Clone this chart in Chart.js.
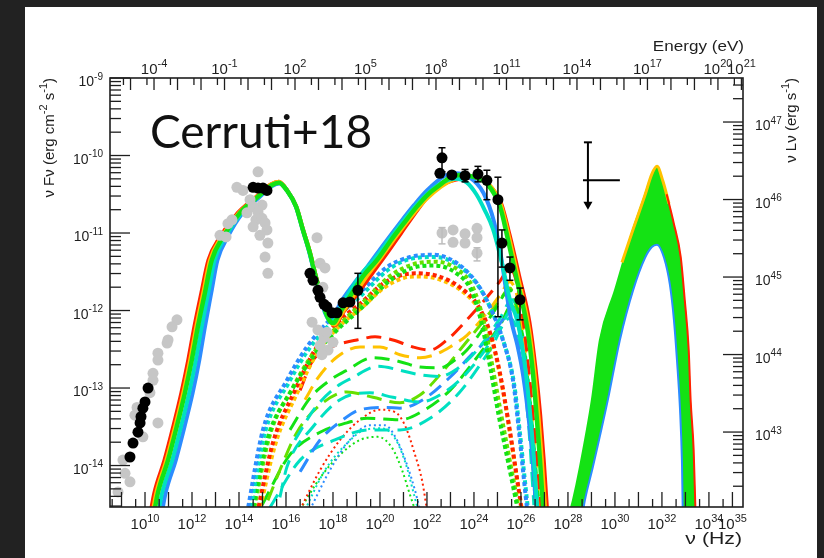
<!DOCTYPE html>
<html>
<head>
<meta charset="utf-8">
<script src="https://cdn.jsdelivr.net/npm/chart.js@4.4.0/dist/chart.umd.min.js"></script>
<style>
html, body { margin: 0; padding: 0; background: #222; }
#panel { position: absolute; left: 25px; top: 7px; width: 792px; height: 551px; background: #fff; }
</style>
</head>
<body>
<div id="panel"><canvas id="sed" width="792" height="551"></canvas></div>
<script>
// every value below is log10: frequency nu in Hz, flux nuFnu in erg cm-2 s-1

// tick labels (exponents)
var nuLabels = [10, 12, 14, 16, 18, 20, 22, 24, 26, 28, 30, 32, 34, 35];
var eLabels = [-4, -1, 2, 5, 8, 11, 14, 17, 20, 21];
var fLabels = [-9, -10, -11, -12, -13, -14];
var lLabels = [43, 44, 45, 46, 47];

// total model, synchrotron + IC (solid)
var totRed = [[10.23,-14.62],[10.40,-14.35],[10.83,-13.93],[11.20,-13.50],[11.55,-13.06],[11.84,-12.64],[12.10,-12.21],[12.40,-11.77],[12.70,-11.35],[13.20,-11.05],[13.95,-10.74],[14.71,-10.54],[15.37,-10.37],[15.70,-10.34],[16.05,-10.45],[16.44,-10.66],[16.73,-10.96],[17.03,-11.26],[17.24,-11.52],[17.46,-11.77],[17.72,-12.03],[17.93,-12.16],[18.08,-12.19],[18.42,-12.03],[19.00,-11.80],[19.65,-11.53],[20.30,-11.26],[20.90,-11.00],[21.60,-10.70],[22.26,-10.45],[23.00,-10.33],[23.83,-10.29],[24.30,-10.31],[24.70,-10.40],[25.17,-10.63],[25.52,-11.03],[25.92,-11.55],[26.36,-12.15],[26.62,-12.75],[26.82,-13.35],[26.97,-13.93],[27.12,-14.62]];
var totOrange = [[10.31,-14.62],[10.48,-14.35],[10.91,-13.93],[11.28,-13.50],[11.63,-13.06],[11.92,-12.64],[12.18,-12.21],[12.48,-11.77],[12.77,-11.35],[13.26,-11.05],[14.00,-10.74],[14.74,-10.54],[15.38,-10.37],[15.70,-10.34],[16.05,-10.45],[16.44,-10.66],[16.73,-10.96],[17.03,-11.26],[17.24,-11.52],[17.46,-11.77],[17.71,-12.03],[17.92,-12.16],[18.06,-12.18],[18.35,-12.05],[18.90,-11.80],[19.48,-11.54],[20.08,-11.30],[20.70,-11.04],[21.30,-10.80],[21.95,-10.57],[22.60,-10.40],[23.20,-10.30],[23.70,-10.27],[24.20,-10.29],[24.66,-10.38],[25.14,-10.63],[25.49,-11.05],[25.88,-11.58],[26.31,-12.18],[26.57,-12.78],[26.75,-13.38],[26.89,-13.93],[27.04,-14.62]];
var totTeal = [[10.56,-14.62],[10.73,-14.35],[11.16,-13.93],[11.53,-13.50],[11.88,-13.06],[12.16,-12.64],[12.41,-12.21],[12.69,-11.77],[12.96,-11.35],[13.42,-11.05],[14.10,-10.74],[14.80,-10.54],[15.42,-10.38],[15.71,-10.35],[16.04,-10.45],[16.43,-10.66],[16.72,-10.96],[17.01,-11.26],[17.22,-11.52],[17.44,-11.77],[17.68,-12.03],[17.89,-12.14],[18.02,-12.12],[18.20,-12.02],[18.70,-11.76],[19.20,-11.53],[19.70,-11.36],[20.35,-11.10],[20.95,-10.86],[21.55,-10.64],[22.10,-10.47],[22.70,-10.34],[23.20,-10.30],[23.70,-10.35],[24.10,-10.50],[24.45,-10.70],[24.81,-10.95],[25.23,-11.44],[25.53,-11.86],[25.83,-12.12],[26.10,-12.55],[26.35,-13.20],[26.55,-13.90],[26.70,-14.62]];
var totBlue = [[10.71,-14.62],[10.88,-14.35],[11.31,-13.93],[11.68,-13.50],[12.03,-13.06],[12.31,-12.64],[12.55,-12.21],[12.82,-11.77],[13.08,-11.35],[13.52,-11.05],[14.16,-10.74],[14.83,-10.55],[15.43,-10.39],[15.72,-10.36],[16.04,-10.45],[16.42,-10.66],[16.71,-10.96],[17.00,-11.26],[17.21,-11.52],[17.42,-11.77],[17.66,-12.03],[17.87,-12.13],[18.00,-12.08],[18.40,-11.86],[19.00,-11.61],[19.45,-11.44],[20.15,-11.15],[20.85,-10.87],[21.45,-10.64],[22.00,-10.45],[22.77,-10.26],[23.19,-10.23],[23.80,-10.28],[24.40,-10.48],[24.85,-10.85],[25.15,-11.30],[25.40,-11.80],[25.60,-12.15],[25.85,-12.45],[26.10,-12.85],[26.38,-13.54],[26.70,-14.62]];
var totGreen = [[10.38,-14.62],[10.55,-14.35],[10.98,-13.93],[11.35,-13.50],[11.70,-13.06],[11.99,-12.64],[12.25,-12.21],[12.55,-11.77],[12.84,-11.35],[13.32,-11.05],[14.04,-10.74],[14.77,-10.54],[15.40,-10.38],[15.70,-10.35],[16.04,-10.45],[16.43,-10.66],[16.72,-10.96],[17.02,-11.26],[17.23,-11.52],[17.45,-11.77],[17.70,-12.03],[17.91,-12.15],[18.04,-12.16],[18.25,-12.05],[18.80,-11.78],[19.30,-11.55],[19.87,-11.35],[20.50,-11.08],[21.00,-10.88],[21.57,-10.66],[22.05,-10.50],[22.55,-10.38],[23.00,-10.28],[23.40,-10.25],[24.04,-10.28],[24.60,-10.38],[25.11,-10.66],[25.45,-11.09],[25.83,-11.61],[26.26,-12.21],[26.51,-12.81],[26.68,-13.41],[26.81,-13.93],[26.96,-14.62]];

// inverse Compton component (thick dots)
var icBlue = [[14.34,-14.62],[15.02,-13.54],[16.04,-12.90],[16.89,-12.47],[17.87,-12.12],[19.15,-11.77],[20.30,-11.44],[21.28,-11.31],[22.26,-11.28],[23.28,-11.39],[24.13,-11.65],[24.68,-11.95],[25.23,-12.38],[25.66,-12.90],[25.91,-13.54],[26.13,-14.19],[26.28,-14.62]];
var icTeal = [[14.45,-14.62],[15.12,-13.56],[16.12,-12.93],[16.97,-12.50],[17.95,-12.15],[19.22,-11.80],[20.37,-11.47],[21.35,-11.33],[22.33,-11.31],[23.35,-11.42],[24.18,-11.68],[24.72,-11.98],[25.27,-12.41],[25.70,-12.93],[25.95,-13.56],[26.17,-14.20],[26.32,-14.62]];
var icGreen = [[14.55,-14.62],[15.22,-13.65],[16.20,-13.05],[17.05,-12.64],[18.02,-12.30],[19.28,-11.95],[20.40,-11.62],[21.40,-11.45],[22.30,-11.42],[23.25,-11.52],[23.90,-11.75],[24.35,-12.20],[24.70,-12.75],[25.05,-13.35],[25.45,-13.95],[25.90,-14.62]];
var icLime = [[14.60,-14.62],[15.30,-13.62],[16.28,-13.00],[17.10,-12.58],[18.08,-12.24],[19.32,-11.88],[20.45,-11.55],[21.45,-11.40],[22.35,-11.37],[23.30,-11.47],[23.95,-11.70],[24.40,-12.12],[24.76,-12.68],[25.12,-13.28],[25.50,-13.90],[25.95,-14.62]];
var icRed = [[14.77,-14.62],[15.45,-13.70],[16.35,-13.05],[17.25,-12.50],[18.17,-12.16],[19.20,-11.90],[20.14,-11.65],[20.95,-11.54],[21.60,-11.52],[22.50,-11.56],[23.40,-11.70],[24.20,-11.95],[24.70,-12.30],[25.10,-12.80],[25.50,-13.50],[25.80,-14.10],[26.05,-14.62]];
var icOrange = [[14.85,-14.62],[15.55,-13.72],[16.45,-13.08],[17.32,-12.55],[18.24,-12.21],[19.27,-11.95],[20.20,-11.70],[21.00,-11.58],[21.65,-11.56],[22.55,-11.60],[23.45,-11.74],[24.22,-11.99],[24.72,-12.34],[25.12,-12.85],[25.52,-13.55],[25.82,-14.15],[26.07,-14.62]];

// hadronic components (long dashes)
var hadRed = [[16.60,-13.03],[17.11,-12.66],[17.66,-12.51],[18.30,-12.43],[19.02,-12.38],[19.79,-12.34],[20.55,-12.38],[21.40,-12.47],[22.13,-12.51],[22.85,-12.38],[23.70,-12.12],[24.55,-11.83],[25.11,-11.62],[25.53,-11.45],[25.96,-11.86],[26.38,-12.90],[26.72,-14.06],[26.89,-14.62]];
var hadOrange = [[16.81,-13.15],[17.36,-12.87],[18.17,-12.60],[19.15,-12.47],[20.00,-12.47],[20.85,-12.57],[21.70,-12.61],[22.34,-12.57],[22.98,-12.47],[23.70,-12.32],[24.47,-12.06],[25.11,-11.80],[25.53,-11.63],[25.96,-11.99],[26.38,-13.03],[26.72,-14.19],[26.85,-14.62]];
var hadGreenA = [[16.17,-13.54],[17.02,-13.13],[17.87,-12.90],[18.59,-12.77],[19.70,-12.61],[20.85,-12.66],[21.70,-12.73],[22.55,-12.74],[23.19,-12.64],[23.70,-12.51],[24.26,-12.29],[24.81,-12.03],[25.53,-11.74],[25.96,-12.12],[26.38,-13.15],[26.68,-14.19],[26.81,-14.62]];
var hadTealA = [[16.38,-13.67],[17.23,-13.26],[18.08,-13.00],[18.81,-12.87],[19.91,-12.72],[20.85,-12.77],[21.70,-12.83],[22.55,-12.85],[23.19,-12.77],[23.83,-12.61],[24.47,-12.38],[25.11,-12.10],[25.62,-11.86],[26.04,-12.25],[26.43,-13.28],[26.68,-14.32],[26.77,-14.62]];
var hadGreenB = [[15.23,-14.45],[15.74,-14.06],[16.47,-13.57],[17.45,-13.22],[18.59,-13.05],[19.70,-13.12],[20.85,-13.19],[21.70,-13.09],[22.55,-12.83],[23.40,-12.51],[24.26,-12.19],[25.11,-11.86],[25.53,-11.71],[25.96,-12.25],[26.38,-13.28],[26.64,-14.32],[26.72,-14.62]];
var hadTealB = [[15.74,-14.41],[16.04,-14.02],[17.15,-13.50],[18.30,-13.15],[19.57,-13.06],[20.55,-13.12],[21.70,-13.18],[22.76,-13.05],[23.62,-12.83],[24.47,-12.51],[25.32,-12.10],[25.74,-11.93],[26.08,-12.38],[26.43,-13.41],[26.64,-14.45]];
var hadBlue = [[16.60,-14.08],[17.45,-13.67],[18.42,-13.41],[19.15,-13.28],[20.30,-13.25],[20.85,-13.26],[21.83,-13.15],[22.98,-12.86],[23.96,-12.55],[24.55,-12.38],[25.23,-12.12],[25.66,-11.97],[26.04,-12.45],[26.38,-13.41],[26.60,-14.45]];
var hadGreenC = [[14.98,-14.51],[16.17,-13.86],[17.45,-13.57],[18.59,-13.45],[19.45,-13.39],[20.85,-13.41],[21.91,-13.28],[22.98,-13.03],[24.04,-12.64],[25.11,-12.19],[25.62,-11.93],[26.00,-12.38],[26.38,-13.41],[26.60,-14.45]];
var hadTealC = [[15.32,-14.54],[16.60,-13.93],[18.08,-13.67],[19.57,-13.54],[20.85,-13.54],[22.13,-13.39],[23.40,-13.05],[24.68,-12.51],[25.53,-12.10],[25.96,-12.45],[26.34,-13.54],[26.55,-14.51]];

// small components (fine dots)
var lowRed = [[16.60,-14.57],[17.45,-14.06],[18.30,-13.67],[19.15,-13.41],[20.00,-13.28],[20.64,-13.31],[21.06,-13.48],[21.49,-13.86],[21.79,-14.19],[22.00,-14.57]];
var lowTeal = [[16.81,-14.57],[17.66,-14.06],[18.51,-13.74],[19.36,-13.54],[20.08,-13.52],[20.68,-13.67],[21.11,-13.99],[21.40,-14.32],[21.62,-14.57]];
var lowBlue = [[17.02,-14.57],[17.87,-14.06],[18.72,-13.67],[19.57,-13.48],[20.21,-13.48],[20.72,-13.67],[21.15,-13.99],[21.49,-14.32],[21.70,-14.57]];
var lowGreen = [[16.60,-14.57],[17.45,-14.16],[18.30,-13.86],[19.15,-13.67],[19.91,-13.63],[20.51,-13.77],[20.94,-14.06],[21.28,-14.38],[21.49,-14.57]];

// neutrino bump at the far right: outer and inner edge of the band
var nuOuter = [[28.08,-14.60],[28.21,-14.45],[28.51,-14.02],[29.02,-13.15],[29.36,-12.38],[30.00,-11.74],[30.72,-11.00],[31.28,-10.51],[31.57,-10.25],[31.79,-10.16],[32.04,-10.35],[32.47,-10.87],[32.77,-11.31],[32.94,-11.86],[33.11,-12.51],[33.19,-13.15],[33.32,-13.80],[33.40,-14.60]];
var nuInner = [[28.08,-16.00],[28.64,-14.60],[28.72,-14.45],[29.06,-14.02],[29.70,-13.15],[30.21,-12.38],[30.77,-11.74],[31.28,-11.32],[31.57,-11.18],[31.79,-11.15],[32.09,-11.32],[32.34,-11.67],[32.51,-12.12],[32.64,-12.64],[32.77,-13.28],[32.85,-13.93],[32.89,-14.60],[33.40,-16.00]];
var nuTop = [[30.30,-11.38],[30.72,-11.00],[31.28,-10.51],[31.57,-10.24],[31.79,-10.14],[32.04,-10.33],[32.30,-10.62]];
var nuRedEdge = [[32.20,-10.50],[32.50,-10.87],[32.80,-11.31],[32.97,-11.86],[33.14,-12.51],[33.22,-13.15],[33.35,-13.80],[33.43,-14.62]];

// data
var blackNu = [10.13, 10.00, 9.91, 9.83, 9.79, 9.70, 9.49, 9.36, 14.60, 14.81, 15.02, 15.19, 17.02, 17.15, 17.36, 17.45, 17.62, 17.74, 17.96, 18.17, 18.43, 18.72, 19.06, 22.64, 22.55, 23.06, 23.62, 24.17, 24.55, 25.02, 25.19, 25.53, 25.96];
var blackF = [-13.00, -13.18, -13.26, -13.37, -13.45, -13.57, -13.71, -13.89, -10.41, -10.42, -10.42, -10.45, -11.52, -11.61, -11.74, -11.83, -11.92, -11.95, -12.03, -12.03, -11.90, -11.89, -11.74, -10.03, -10.23, -10.25, -10.26, -10.24, -10.32, -10.57, -11.13, -11.45, -11.86];
// [nu, upper, lower]
var blackErr = [[19.06,-11.52,-12.23],[22.64,-9.90,-10.21],[23.62,-10.18,-10.34],[24.17,-10.14,-10.34],[24.55,-10.19,-10.57],[25.02,-10.28,-12.08],[25.19,-10.96,-11.44],[25.53,-11.31,-11.61],[25.96,-11.71,-12.12]];
var grayNu = [11.36, 11.15, 10.98, 10.94, 10.55, 10.55, 10.34, 10.34, 10.21, 9.66, 9.57, 9.91, 10.55, 9.06, 9.15, 9.36, 8.85, 14.81, 14.17, 13.91, 14.47, 14.98, 14.34, 14.72, 14.60, 14.81, 14.98, 15.11, 14.60, 15.19, 14.89, 13.70, 13.53, 13.19, 13.45, 15.23, 15.11, 15.23, 17.32, 17.45, 17.66, 17.57, 17.11, 17.36, 17.62, 17.45, 17.79, 17.53, 18.00, 17.74, 22.64, 23.11, 23.11, 23.62, 23.62, 24.13, 24.13, 24.13];
var grayF = [-12.12, -12.21, -12.38, -12.42, -12.55, -12.64, -12.81, -12.90, -13.06, -13.25, -13.35, -13.63, -13.45, -13.93, -14.10, -14.21, -14.34, -10.21, -10.45, -10.41, -10.57, -10.64, -10.74, -10.83, -10.66, -10.73, -10.81, -10.87, -10.92, -10.96, -11.03, -10.83, -10.88, -11.03, -11.05, -11.13, -11.31, -11.52, -11.06, -11.39, -11.45, -11.70, -12.15, -12.25, -12.35, -12.45, -12.51, -12.57, -12.41, -12.28, -11.00, -10.96, -11.12, -11.01, -11.13, -10.94, -11.06, -11.26];
var grayErr = [[22.64,-10.93,-11.14],[24.13,-11.19,-11.36]];
// upper limit: nu, nu low, nu high, flux, top of bar, arrow tip
var ulNu = 28.85, ulNuLo = 28.64, ulNuHi = 30.21, ulF = -10.32, ulTop = -9.83, ulTip = -10.70;

var RED = '#ff2200', ORANGE = '#ffc200', GREEN = '#14e214', LIME = '#66e000', TEAL = '#00e0c2', BLUE = '#2c8cff';
var FONT = '"Liberation Sans", Arial, sans-serif';
var HEV = Math.log10(4.1357e-15); // h in eV s
var LOFF = 56.568;                // log10(4 pi d^2)
var NU_MIN = 8.51, NU_MAX = 35.45, F_MIN = -14.535, F_MAX = -9;

function toXY(pts) {
    return pts.map(function (p) { return { x: Math.pow(10, p[0]), y: Math.pow(10, p[1]) }; });
}

function curve(pts, color, width, dash) {
    return {
        data: toXY(pts), showLine: true, borderColor: color, borderWidth: width,
        borderDash: dash || [], pointRadius: 0, fill: false,
        cubicInterpolationMode: 'monotone', borderJoinStyle: 'round'
    };
}

function dots(nu, f, color) {
    var d = [];
    for (var i = 0; i < nu.length; i++) d.push({ x: Math.pow(10, nu[i]), y: Math.pow(10, f[i]) });
    return { data: d, showLine: false, pointRadius: 5.5, backgroundColor: color, borderColor: color, borderWidth: 0 };
}

var DOT = [4, 3], DASH = [15, 8], FINE = [2, 3];
var sets = [
    curve(lowGreen, GREEN, 2, FINE), curve(lowBlue, BLUE, 2, FINE), curve(lowTeal, TEAL, 2, FINE), curve(lowRed, RED, 2, FINE),
    curve(hadTealC, TEAL, 3, DASH), curve(hadGreenC, GREEN, 3, DASH), curve(hadBlue, BLUE, 3, DASH),
    curve(hadTealB, TEAL, 3, DASH), curve(hadGreenB, LIME, 3, DASH), curve(hadTealA, TEAL, 3, DASH),
    curve(hadGreenA, GREEN, 3, DASH), curve(hadOrange, ORANGE, 3, DASH), curve(hadRed, RED, 3, DASH),
    curve(icOrange, ORANGE, 4, DOT), curve(icRed, RED, 4, DOT), curve(icLime, LIME, 4, DOT),
    curve(icGreen, GREEN, 4, DOT), curve(icTeal, TEAL, 4, DOT), curve(icBlue, BLUE, 4, DOT),
    curve(totRed, RED, 4), curve(totOrange, ORANGE, 4), curve(totBlue, BLUE, 4), curve(totTeal, TEAL, 4), curve(totGreen, GREEN, 4.5)
];
// band of the neutrino bump, filled from outer edge to inner edge
var outer = curve(nuOuter, GREEN, 2);
outer.fill = '+1';
outer.backgroundColor = GREEN;
sets.push(outer);
sets.push(curve(nuInner, BLUE, 2));
sets.push(curve(nuTop, ORANGE, 3));
sets.push(curve(nuRedEdge, RED, 2));
sets.push(dots(grayNu, grayF, '#c6c6c6'));
sets.push(dots(blackNu, blackF, '#000'));
// first in the list is drawn first
sets.forEach(function (s, i) { s.order = sets.length - i; });

function tick(ctx, x1, y1, x2, y2) {
    ctx.beginPath();
    ctx.moveTo(x1, y1);
    ctx.lineTo(x2, y2);
    ctx.stroke();
}

// "10" with a raised exponent, y is the baseline of "10"
function powLabel(ctx, exp, x, y, size, align) {
    var big = size + 'px ' + FONT, small = Math.round(size * 0.7) + 'px ' + FONT;
    var sup = String(exp);
    ctx.font = big;
    var w1 = ctx.measureText('10').width;
    ctx.font = small;
    var w2 = ctx.measureText(sup).width;
    var left = align === 'right' ? x - w1 - w2 : (align === 'left' ? x : x - (w1 + w2) / 2);
    ctx.textAlign = 'left';
    ctx.textBaseline = 'alphabetic';
    ctx.font = big;
    ctx.fillText('10', left, y);
    ctx.font = small;
    ctx.fillText(sup, left + w1, y - size * 0.45);
}

// text pieces with superscripts, drawn so that it ends at x = 0
function richEnd(ctx, parts, size) {
    var big = size + 'px ' + FONT, small = Math.round(size * 0.7) + 'px ' + FONT;
    var total = 0, i;
    for (i = 0; i < parts.length; i++) {
        ctx.font = parts[i][1] ? small : big;
        total += ctx.measureText(parts[i][0]).width;
    }
    var x = -total;
    ctx.textAlign = 'left';
    ctx.textBaseline = 'alphabetic';
    for (i = 0; i < parts.length; i++) {
        ctx.font = parts[i][1] ? small : big;
        ctx.fillText(parts[i][0], x, parts[i][1] ? -size * 0.45 : 0);
        x += ctx.measureText(parts[i][0]).width;
    }
}

// right aligned text, a bit wider than the font
function wideText(ctx, text, x, y, size, stretch) {
    ctx.save();
    ctx.translate(x, y);
    ctx.scale(stretch, 1);
    ctx.font = size + 'px ' + FONT;
    ctx.textAlign = 'right';
    ctx.fillText(text, 0, 0);
    ctx.restore();
}

var rootAxes = {
    id: 'rootAxes',
    afterDatasetsDraw: function (chart) {
        var ctx = chart.ctx, sx = chart.scales.x, sy = chart.scales.y;
        var X = function (v) { return sx.getPixelForValue(Math.pow(10, v)); };
        var Y = function (v) { return sy.getPixelForValue(Math.pow(10, v)); };
        ctx.save();
        ctx.lineWidth = 1.5;
        // error bars
        var bars = [[blackErr, '#000'], [grayErr, '#bdbdbd']];
        bars.forEach(function (b) {
            ctx.strokeStyle = b[1];
            b[0].forEach(function (e) {
                var x = X(e[0]), y1 = Y(e[1]), y2 = Y(e[2]);
                tick(ctx, x, y1, x, y2);
                tick(ctx, x - 3.5, y1, x + 3.5, y1);
                tick(ctx, x - 3.5, y2, x + 3.5, y2);
            });
        });
        // upper limit with arrow
        ctx.strokeStyle = '#000';
        ctx.fillStyle = '#000';
        ctx.lineWidth = 2;
        var ux = X(ulNu), uy = Y(ulF), ut = Y(ulTop), ua = Y(ulTip);
        tick(ctx, X(ulNuLo), uy, X(ulNuHi), uy);
        tick(ctx, ux, ut, ux, ua - 6);
        tick(ctx, ux - 4, ut, ux + 4, ut);
        ctx.beginPath();
        ctx.moveTo(ux - 4.5, ua - 8);
        ctx.lineTo(ux + 4.5, ua - 8);
        ctx.lineTo(ux, ua);
        ctx.closePath();
        ctx.fill();
        ctx.restore();
    },
    afterDraw: function (chart) {
        var ctx = chart.ctx, a = chart.chartArea;
        var sx = chart.scales.x, sy = chart.scales.y, se = chart.scales.xE, sl = chart.scales.yL;
        var n, k, p;
        ctx.save();
        ctx.strokeStyle = '#1e1e1e';
        ctx.fillStyle = '#1e1e1e';
        ctx.lineWidth = 1.6;
        ctx.strokeRect(a.left, a.top, a.right - a.left, a.bottom - a.top);
        ctx.lineWidth = 1.3;
        // bottom: frequency
        for (n = 8; n <= 35; n++) {
            p = sx.getPixelForValue(Math.pow(10, n));
            if (p > a.left && p < a.right) tick(ctx, p, a.bottom, p, a.bottom - 15);
            p = sx.getPixelForValue(4 * Math.pow(10, n));
            if (p > a.left && p < a.right) tick(ctx, p, a.bottom, p, a.bottom - 8);
        }
        // top: energy
        for (n = -6; n <= 21; n++) {
            p = se.getPixelForValue(Math.pow(10, n));
            if (p > a.left && p < a.right + 1) tick(ctx, p, a.top, p, a.top + 12);
            p = se.getPixelForValue(5 * Math.pow(10, n));
            if (p > a.left && p < a.right) tick(ctx, p, a.top, p, a.top + 7);
        }
        // left: flux, right: luminosity
        for (n = -15; n <= -9; n++) {
            for (k = 1; k <= 9; k++) {
                p = sy.getPixelForValue(k * Math.pow(10, n));
                if (p < a.top - 0.5 || p > a.bottom) continue;
                tick(ctx, a.left, p, a.left + (k === 1 ? 20 : 11), p);
            }
        }
        for (n = 42; n <= 47; n++) {
            for (k = 1; k <= 9; k++) {
                p = sl.getPixelForValue(k * Math.pow(10, n));
                if (p < a.top - 0.5 || p > a.bottom) continue;
                tick(ctx, a.right, p, a.right - (k === 1 ? 20 : 10), p);
            }
        }
        nuLabels.forEach(function (e) { powLabel(ctx, e, sx.getPixelForValue(Math.pow(10, e)), a.bottom + 22, 15, 'center'); });
        eLabels.forEach(function (e) { powLabel(ctx, e, se.getPixelForValue(Math.pow(10, e)), a.top - 4, 15, 'center'); });
        fLabels.forEach(function (e) { powLabel(ctx, e, a.left - 7, sy.getPixelForValue(Math.pow(10, e)) + 8, 14, 'right'); });
        lLabels.forEach(function (e) { powLabel(ctx, e, a.right + 12, sl.getPixelForValue(Math.pow(10, e)) + 8, 14, 'left'); });

        // axis titles
        wideText(ctx, 'Energy (eV)', a.right + 1, a.top - 27, 14, 1.22);
        wideText(ctx, '\u03bd (Hz)', a.right - 1, a.bottom + 37, 17, 1.25);
        ctx.save();
        ctx.translate(29, a.top);
        ctx.rotate(-Math.PI / 2);
        richEnd(ctx, [['\u03bd F\u03bd (erg cm'], ['-2', 1], [' s'], ['-1', 1], [')']], 15);
        ctx.restore();
        ctx.save();
        ctx.translate(771, a.top);
        ctx.rotate(-Math.PI / 2);
        richEnd(ctx, [['\u03bd L\u03bd (erg s'], ['-1', 1], [')']], 15);
        ctx.restore();

        // panel tag
        ctx.fillStyle = '#111';
        ctx.font = '46px Lato, "Open Sans", sans-serif';
        ctx.textAlign = 'left';
        ctx.fillText('Cerruti+18', 125, 141);
        ctx.restore();
    }
};

var chart = new Chart(document.getElementById('sed').getContext('2d'), {
    type: 'scatter',
    data: { datasets: sets },
    options: {
        responsive: false,
        animation: false,
        events: [],
        layout: { padding: { left: 85, top: 71, right: 74, bottom: 51 } },
        plugins: { legend: { display: false }, tooltip: { enabled: false } },
        scales: {
            x: { type: 'logarithmic', min: Math.pow(10, NU_MIN), max: Math.pow(10, NU_MAX), display: false },
            y: { type: 'logarithmic', min: Math.pow(10, F_MIN), max: Math.pow(10, F_MAX), display: false },
            xE: { type: 'logarithmic', axis: 'x', position: 'top', min: Math.pow(10, NU_MIN + HEV), max: Math.pow(10, NU_MAX + HEV), display: false },
            yL: { type: 'logarithmic', axis: 'y', position: 'right', min: Math.pow(10, F_MIN + LOFF), max: Math.pow(10, F_MAX + LOFF), display: false }
        }
    },
    plugins: [rootAxes]
});
</script>
</body>
</html>
